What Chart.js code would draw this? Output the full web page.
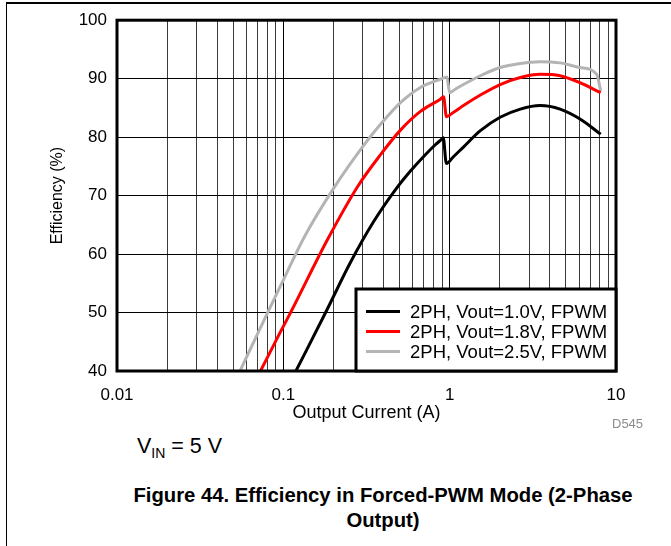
<!DOCTYPE html>
<html>
<head>
<meta charset="utf-8">
<script src="https://cdn.jsdelivr.net/npm/chart.js@4/dist/chart.umd.min.js"></script>
<style>
  html, body { margin: 0; padding: 0; background: #fff; }
  body { width: 671px; height: 546px; position: relative; overflow: hidden;
         font-family: "Liberation Sans", Arial, sans-serif; color: #000; }
  #frame { position: absolute; left: 6px; top: 2px; right: -2px; bottom: -2px;
           border-top: 2px solid #000; border-left: 1px solid #000; }
  #wrap { position: absolute; left: 0; top: 0; width: 671px; height: 430px; }
  .vin { position: absolute; left: 137px; top: 436px; font-size: 21.5px; line-height: 21px; white-space: nowrap; }
  .vin .sub { position: relative; top: 5px; font-size: 14px; }
  .code { position: absolute; left: 612px; top: 416px; font-size: 13px; line-height: 15px; color: #8c8c8c; }
  .cap { position: absolute; left: 100px; width: 566px; top: 483px; text-align: center;
         font-weight: bold; font-size: 20.3px; line-height: 25px; }
</style>
</head>
<body>
<div id="frame"></div>
<div id="wrap"><canvas id="eff" width="671" height="430"></canvas></div>
<div class="code">D545</div>
<div class="vin">V<span class="sub">IN</span> = 5 V</div>
<div class="cap">Figure 44. Efficiency in Forced-PWM Mode (2-Phase<br>Output)</div>

<script>
// Series names
const seriesLabels = ['2PH, Vout=1.0V, FPWM', '2PH, Vout=1.8V, FPWM', '2PH, Vout=2.5V, FPWM'];
const seriesColors = ['#000000', '#ff0000', '#b4b4b4'];

// Vout = 1.0 V : output current (A) and efficiency (%)
const current10 = [0.119, 0.1795, 0.2535, 0.35, 0.469, 0.581, 0.714, 0.82, 0.90, 0.915, 0.955, 1.05, 1.21, 1.53, 2.01, 2.66, 3.50, 4.61, 6.08, 8.09];
const eff10     = [40.0, 50.0, 58.6, 65.6, 70.9, 74.2, 77.0, 78.7, 79.7, 79.9, 75.5, 76.6, 78.3, 81.1, 83.4, 84.8, 85.4, 84.8, 83.1, 80.5];

// Vout = 1.8 V
const current18 = [0.0729, 0.0957, 0.1106, 0.1837, 0.2805, 0.384, 0.506, 0.667, 0.879, 0.919, 0.956, 1.05, 1.21, 1.53, 2.01, 2.66, 3.50, 4.61, 6.08, 8.09];
const eff18     = [40.0, 46.6, 50.0, 62.4, 71.6, 77.0, 81.2, 84.4, 86.5, 86.9, 83.5, 84.2, 85.4, 87.2, 89.0, 90.2, 90.75, 90.5, 89.3, 87.6];

// Vout = 2.5 V
const current25 = [0.0549, 0.0802, 0.1002, 0.133, 0.2023, 0.308, 0.384, 0.506, 0.667, 0.879, 0.963, 1.0, 1.08, 1.21, 1.53, 2.01, 2.66, 3.50, 4.61, 6.08, 7.65, 8.09];
const eff25     = [40.0, 49.9, 55.6, 62.8, 71.4, 78.8, 82.2, 85.9, 88.5, 89.9, 90.3, 87.6, 88.2, 89.0, 90.5, 91.9, 92.6, 92.9, 92.7, 91.9, 90.75, 87.9];

// Axis ticks
const xDecades = [0.01, 0.1, 1, 10];
const xTickLabels = ['0.01', '0.1', '1', '10'];
const yTicks = [40, 50, 60, 70, 80, 90, 100];

const pts = (xs, ys) => xs.map((x, i) => ({ x: x, y: ys[i] }));

const FONT = '"Liberation Sans", Arial, sans-serif';

// Frame around the plot and the boxed legend in its lower-right corner
const framePlugin = {
  id: 'framePlugin',
  afterDatasetsDraw(chart) {
    const { ctx, chartArea: a } = chart;
    ctx.save();
    ctx.lineWidth = 3;
    ctx.strokeStyle = '#000';
    ctx.strokeRect(a.left, a.top, a.right - a.left, a.bottom - a.top);

    // legend box
    const w = 260, h = 82;
    const lx = a.right - w, ly = a.bottom - h;
    ctx.fillStyle = '#fff';
    ctx.fillRect(lx, ly, w, h);
    ctx.strokeRect(lx, ly, w, h);
    ctx.font = '18.5px ' + FONT;
    ctx.textBaseline = 'middle';
    ctx.textAlign = 'left';
    chart.data.datasets.forEach((ds, i) => {
      const y = ly + 22.5 + i * 20;
      ctx.beginPath();
      ctx.strokeStyle = ds.borderColor;
      ctx.lineWidth = 3;
      ctx.moveTo(lx + 10, y);
      ctx.lineTo(lx + 44, y);
      ctx.stroke();
      ctx.fillStyle = '#000';
      ctx.fillText(ds.label, lx + 54, y + 1);
    });
    ctx.restore();
  }
};

new Chart(document.getElementById('eff'), {
  type: 'line',
  data: {
    datasets: [
      { label: seriesLabels[0], data: pts(current10, eff10), borderColor: seriesColors[0] },
      { label: seriesLabels[1], data: pts(current18, eff18), borderColor: seriesColors[1] },
      { label: seriesLabels[2], data: pts(current25, eff25), borderColor: seriesColors[2] }
    ].map(d => Object.assign(d, {
      borderWidth: 3, pointRadius: 0, fill: false, cubicInterpolationMode: 'monotone'
    }))
  },
  options: {
    responsive: false,
    animation: false,
    events: [],
    layout: { padding: { top: 19, right: 55, left: 0, bottom: 0 } },
    plugins: { legend: { display: false }, tooltip: { enabled: false } },
    scales: {
      x: {
        type: 'logarithmic',
        min: 0.01, max: 10,
        afterFit(s) { s.height = 59; },
        afterBuildTicks(s) {
          const t = [];
          xDecades.slice(0, -1).forEach(d => { for (let k = 1; k <= 9; k++) t.push({ value: d * k }); });
          t.push({ value: xDecades[xDecades.length - 1] });
          s.ticks = t;
        },
        grid: {
          drawTicks: false, lineWidth: 1,
          color: ctx => (ctx.tick && xDecades.some(d => Math.abs(d - ctx.tick.value) < d * 1e-6)) ? '#000' : '#3c3c3c'
        },
        border: { display: false },
        ticks: {
          autoSkip: false, maxRotation: 0, padding: 14,
          color: '#000', font: { family: FONT, size: 17 },
          callback(v) {
            const i = xDecades.findIndex(d => Math.abs(d - v) < d * 1e-6);
            return i >= 0 ? xTickLabels[i] : '';
          }
        },
        title: {
          display: true, text: 'Output Current (A)', color: '#000',
          font: { family: FONT, size: 18 }, padding: { top: 0, bottom: 6 }
        }
      },
      y: {
        min: 40, max: 100,
        afterFit(s) { s.width = 117; },
        afterBuildTicks(s) { s.ticks = yTicks.map(v => ({ value: v })); },
        grid: { color: '#000', lineWidth: 1, drawTicks: false },
        border: { display: false },
        ticks: { padding: 10, color: '#000', font: { family: FONT, size: 17 } },
        title: {
          display: true, text: 'Efficiency (%)', color: '#000',
          font: { family: FONT, size: 16 }, padding: { top: 48, bottom: 0 }
        }
      }
    }
  },
  plugins: [framePlugin]
});
</script>
</body>
</html>
